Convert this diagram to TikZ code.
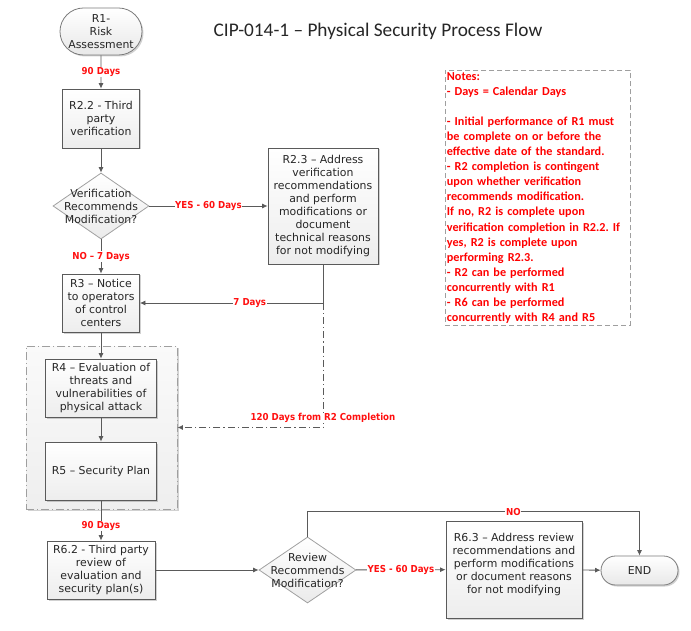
\documentclass[tikz,border=0pt]{standalone}
\usepackage{fontspec}
\setmainfont{DejaVu Sans}
\newfontfamily\notesfont{Carlito}
\newfontfamily\lblfont{DejaVu Sans}[FakeStretch=0.9]
\usetikzlibrary{arrows.meta,shapes.geometric,shapes.misc,shadows}
\definecolor{lineg}{HTML}{5A5A5A}
\definecolor{dialine}{HTML}{A0A0A0}
\definecolor{lblred}{HTML}{FF1010}
\definecolor{notered}{HTML}{FF0000}
\frenchspacing
\begin{document}
\begin{tikzpicture}[x=1pt,y=-1pt,
  every node/.style={font=\fontsize{10.9}{13}\selectfont, text=black!85},
  shad/.style={drop shadow={shadow xshift=1.5pt,shadow yshift=-1.5pt,fill=black,opacity=0.18}},
  box/.style={rectangle, draw=lineg, line width=0.8pt, top color=white, bottom color=gray!14, shad, align=center, inner sep=1pt},
  term/.style={rounded rectangle, draw=lineg!80, line width=0.8pt, top color=white, bottom color=gray!18, shad, align=center, inner sep=1pt},
  dia/.style={diamond, draw=dialine, line width=0.8pt, top color=white, bottom color=gray!16, inner sep=0pt},
  dtxt/.style={align=center, inner sep=0pt},
  grp/.style={rectangle, draw=gray!75, line width=0.9pt, dash pattern=on 8pt off 3pt on 1.2pt off 3pt, top color=gray!4, bottom color=gray!13, shad},
  arr/.style={draw=lineg, line width=0.8pt, -{Latex[length=5.5pt,width=5pt]}},
  dashdot/.style={dash pattern=on 7pt off 3pt on 1.2pt off 3pt},
  lbl/.style={fill=white, inner sep=0.6pt, text=lblred, font=\lblfont\bfseries\fontsize{9.6}{11}\selectfont}
]
\useasboundingbox (0,0) rectangle (691,631);

% title
\node[font=\notesfont\fontsize{19.3}{22}\selectfont, text=black!85] (title) at (378,31) {CIP-014-1 – Physical Security Process Flow};

% notes
\node[draw=gray!75, line width=0.8pt, dash pattern=on 5pt off 3pt, anchor=north west,
      minimum width=185pt, minimum height=255pt, inner sep=1.5pt, align=left, text width=182pt,
      text=notered, font=\notesfont\bfseries\fontsize{12.2}{15.1}\selectfont] (notes) at (445,70)
 {Notes:\\
  - Days = Calendar Days\\
  \mbox{}\\
  - Initial performance of R1 must\\
  be complete on or before the\\
  effective date of the standard.\\
  - R2 completion is contingent\\
  upon whether verification\\
  recommends modification.\\
  If no, R2 is complete upon\\
  verification completion in R2.2. If\\
  yes, R2 is complete upon\\
  performing R2.3.\\
  - R2 can be performed\\
  concurrently with R1\\
  - R6 can be performed\\
  concurrently with R4 and R5};

% group box
\node[grp, minimum width=151pt, minimum height=163pt] (grp) at (101.5,427.5) {};

% nodes
\node[term, minimum width=78pt, minimum height=47pt] (r1) at (101,31.5) {R1-\\Risk\\Assessment};
\node[box, minimum width=77pt, minimum height=59pt] (r22) at (101,118.5) {R2.2 - Third\\party\\verification};
\node[dia, minimum width=96pt, minimum height=66pt] (d1) at (101,206) {};
\node[dtxt] (d1t) at (d1.center) {Verification\\Recommends\\Modification?};
\node[box, minimum width=110pt, minimum height=116pt] (r23) at (323,206) {R2.3 – Address\\verification\\recommendations\\and perform\\modifications or\\document\\technical reasons\\for not modifying};
\node[box, minimum width=77pt, minimum height=58pt] (r3) at (101,303) {R3 – Notice\\to operators\\of control\\centers};
\node[box, minimum width=111pt, minimum height=58pt] (r4) at (101,388) {R4 – Evaluation of\\threats and\\vulnerabilities of\\physical attack};
\node[box, minimum width=111pt, minimum height=58pt] (r5) at (101,471) {R5 – Security Plan};
\node[box, minimum width=108pt, minimum height=58pt] (r62) at (101,570) {R6.2 - Third party\\review of\\evaluation and\\security plan(s)};
\node[dia, minimum width=97pt, minimum height=66pt] (d2) at (307.5,570) {};
\node[dtxt] (d2t) at (d2.center) {Review\\Recommends\\Modification?};
\node[box, minimum width=136pt, minimum height=97pt] (r63) at (514,569.5) {R6.3 – Address review\\recommendations and\\perform modifications\\or document reasons\\for not modifying\\[-1pt]\mbox{}};
\node[term, minimum width=79pt, minimum height=29pt] (endn) at (639.5,570.5) {END};

% connectors
\draw[arr] (r1) -- node[lbl]{90 Days} (r22);
\draw[arr] (r22) -- (d1);
\draw[arr] (d1) -- node[lbl]{YES - 60 Days} (r23);
\draw[arr] (d1) -- node[lbl]{NO – 7 Days} (r3);
\draw[arr] (r23.south) |- node[lbl,pos=0.7]{7 Days} (r3.east);
\coordinate (split) at (r23.south |- r3.east);
\draw[arr, dashdot] (split) |- node[lbl, pos=0.5, yshift=9.5pt]{120 Days from R2 Completion} (grp.east);
\draw[arr] (r3) -- (r4);
\draw[arr] (r4) -- (r5);
\draw[arr] (r5) -- node[lbl, pos=0.63]{90 Days} (r62);
\draw[arr] (r62) -- (d2);
\draw[arr] (d2) -- node[lbl]{YES - 60 Days} (r63);
\draw[arr] (r63) -- (endn);
\draw[arr] (d2.north) -- ++(0,-25) -| node[lbl, pos=0.31]{NO} (endn.north);
\end{tikzpicture}
\end{document}
